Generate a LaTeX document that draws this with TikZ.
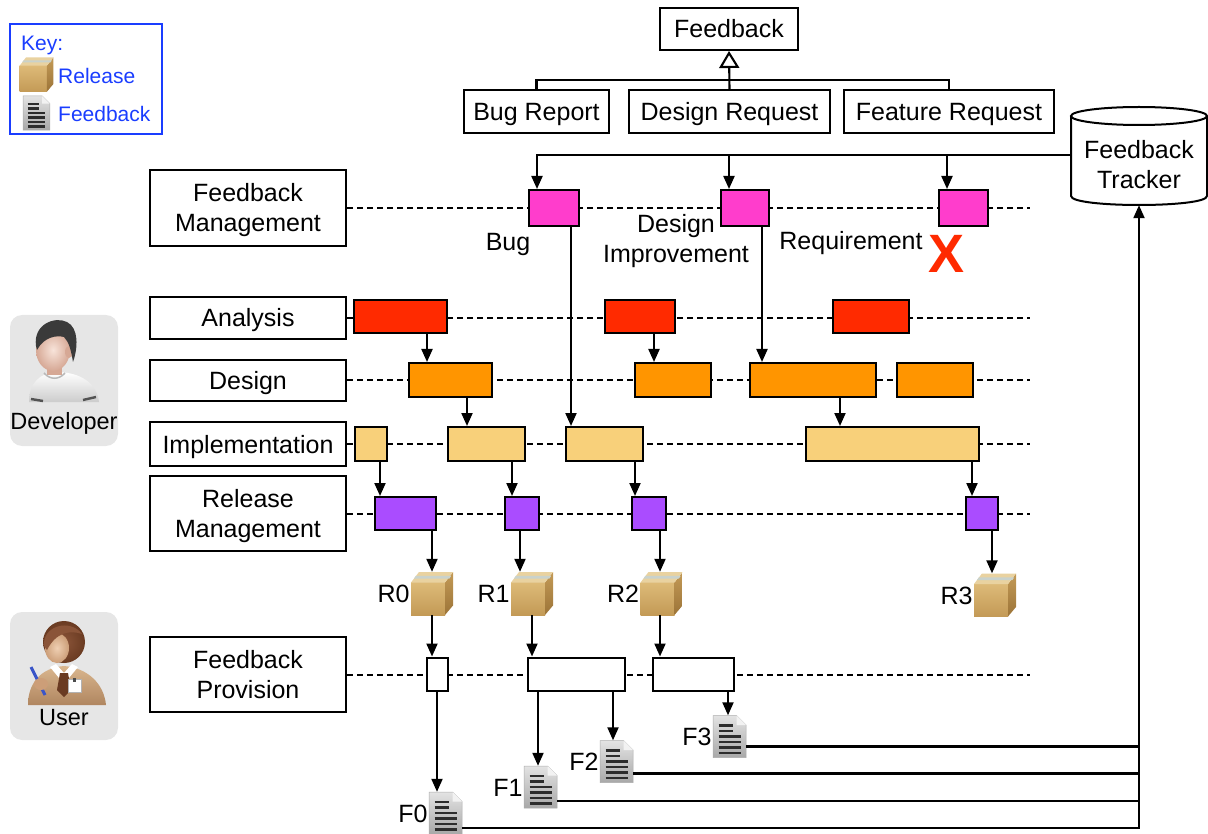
\documentclass[tikz,border=0pt]{standalone}
\usepackage{fontspec}
\setmainfont{Liberation Sans}
\usetikzlibrary{arrows.meta,calc}

\definecolor{fbpink}{HTML}{FF3DCC}
\definecolor{anred}{HTML}{FF2A00}
\definecolor{deorange}{HTML}{FF9500}
\definecolor{imtan}{HTML}{F8D07A}
\definecolor{rmpurple}{HTML}{AA4CFF}
\definecolor{keyblue}{HTML}{1A3DFF}
\definecolor{panelgrey}{HTML}{E6E6E6}
\definecolor{pkgtop}{HTML}{E9D2A0}
\definecolor{pkglight}{HTML}{DDBA78}
\definecolor{pkgmid}{HTML}{C39A56}
\definecolor{pkgdark}{HTML}{9C7438}
\definecolor{pkgtape}{HTML}{C9D2CC}
\definecolor{skinlight}{HTML}{F8E4DA}
\definecolor{skindark}{HTML}{D6A895}
\definecolor{devhair}{HTML}{3A3A3A}
\definecolor{userhair}{HTML}{8A5438}
\definecolor{userhairdark}{HTML}{6A3B22}
\definecolor{userskin}{HTML}{EFCFB2}
\definecolor{userskindark}{HTML}{CC9E78}
\definecolor{usercoat}{HTML}{D9B68E}
\definecolor{usercoatdark}{HTML}{B08660}
\definecolor{pen}{HTML}{3A55C8}

% release package icon: name, centre, scale
\newcommand{\pkgicon}[3]{%
  \node[minimum width=42*#3, minimum height=43*#3, inner sep=0pt] (#1) at (#2) {};
  \begin{scope}[shift={(#1.center)}, scale=#3]
    \shade[top color=pkglight, bottom color=pkgmid] (-21,-11) -- (13,-11) -- (13,21.5) -- (-21,21.5) -- cycle;
    \shade[top color=pkgmid, bottom color=pkgdark] (13,-11) -- (21,-21.5) -- (21,12) -- (13,21.5) -- cycle;
    \fill[pkgtop] (-21,-11) -- (-13,-21.5) -- (21,-21.5) -- (13,-11) -- cycle;
    \fill[pkgtape] (-18,-15) -- (-16.2,-17.6) -- (19.2,-17.6) -- (17.4,-15) -- cycle;
  \end{scope}}

% feedback document icon: name, centre, scale
\newcommand{\docicon}[3]{%
  \node[minimum width=33*#3, minimum height=42*#3, inner sep=0pt] (#1) at (#2) {};
  \begin{scope}[shift={(#1.center)}, scale=#3]
    \shade[top color=gray!22, bottom color=gray!68, draw=gray!65, line width=0.5pt]
      (-16.5,-21) -- (7,-21) -- (16.5,-11.5) -- (16.5,21) -- (-16.5,21) -- cycle;
    \fill[gray!10] (7,-21) -- (16.5,-11.5) -- (7,-11.5) -- cycle;
    \foreach \yy/\xe in {-11/3,-5.5/3,0/11,5.5/11,11/11,16.5/11}
      \draw[line width=2.6pt, gray!35!black] (-11,\yy) -- (\xe,\yy);
  \end{scope}}

% vertical connector at a given x between two nodes
\newcommand{\vlink}[3]{%
  \coordinate (vx) at (#3,0);
  \draw[arr] (#1.south -| vx) -- (#2.north -| vx);}

\begin{document}
\begin{tikzpicture}[x=1pt,y=-1pt,
  every node/.style={font=\fontsize{25}{30}\selectfont, text=black, text height=18pt, text depth=0pt},
  twoline/.style={align=center, text height=48pt, text depth=0pt},
  lanebox/.style={draw, line width=2pt, minimum width=196pt, align=center, inner sep=0pt},
  actbox/.style={draw, line width=2pt, inner sep=0pt},
  hier/.style={draw, line width=2pt, inner sep=0pt, minimum height=42pt},
  lanedash/.style={line width=2pt, dash pattern=on 6pt off 4pt},
  arr/.style={line width=2.1pt, -{Triangle[length=13pt,width=11pt]}},
  plain/.style={line width=2.1pt},
  tag/.style={anchor=east, inner sep=1pt},
  keytext/.style={anchor=west, inner sep=0pt, text=keyblue, text height=15pt, font=\fontsize{21}{24}\selectfont}
]
\useasboundingbox (0,0) rectangle (1208,834);

% ---------- key ----------
\draw[keyblue, line width=2pt] (10,24) rectangle (162,134);
\node[keytext] (keyt) at (21,43) {Key:};
\pkgicon{keypkg}{36.5,74.5}{0.8}
\node[keytext] (keyrel) at (58,76) {Release};
\docicon{keydoc}{36.5,113}{0.81}
\node[keytext] (keyfb) at (58,114) {Feedback};

% ---------- feedback taxonomy ----------
\node[hier, minimum width=138] (fbk) at (729,29) {Feedback};
\node[hier, minimum width=145, minimum height=43] (bugr) at (536.5,111.5) {Bug Report};
\node[hier, minimum width=201, minimum height=43] (desr) at (729.5,111.5) {Design Request};
\node[hier, minimum width=210, minimum height=43] (feat) at (949,111.5) {Feature Request};
\coordinate (bar) at (0,80);
\draw[plain] (bugr.north) -- (bugr.north |- bar) -- (feat.north |- bar) -- (feat.north);
\draw[plain, -{Triangle[open, length=17pt, width=20pt]}] (desr.north) -- (fbk.south);

% ---------- feedback tracker ----------
\draw[line width=2pt, fill=white] (1071,116) -- (1071,196)
  .. controls (1071,208) and (1207,208) .. (1207,196) -- (1207,116);
\draw[line width=2pt] (1139,116) ellipse [x radius=68, y radius=9];
\node[twoline, minimum width=136, minimum height=80, inner sep=0pt] (trk) at (1139,165) {Feedback\\Tracker};

% ---------- lanes ----------
\node[lanebox, twoline, minimum height=76] (lfm) at (248,208) {Feedback\\Management};
\node[lanebox, minimum height=42] (lan) at (248,318) {Analysis};
\node[lanebox, minimum height=41] (lde) at (248,380.5) {Design};
\node[lanebox, minimum height=44] (lim) at (248,444) {Implementation};
\node[lanebox, twoline, minimum height=75] (lrm) at (248,513.5) {Release\\Management};
\node[lanebox, twoline, minimum height=75] (lfp) at (248,674.5) {Feedback\\Provision};
\coordinate (laneend) at (1030,0);
\foreach \l in {lfm,lan,lde,lim,lrm,lfp}
  \draw[lanedash] (\l.east) -- (\l.east -| laneend);

% feedback management
\node[actbox, fill=fbpink, minimum width=50, minimum height=36] (p1) at (554,208) {};
\node[actbox, fill=fbpink, minimum width=48, minimum height=36] (p2) at (745,208) {};
\node[actbox, fill=fbpink, minimum width=49, minimum height=36] (p3) at (963.5,208) {};
% analysis
\node[actbox, fill=anred, minimum width=93, minimum height=33] (a1) at (400.5,317) {};
\node[actbox, fill=anred, minimum width=70, minimum height=33] (a2) at (640,317) {};
\node[actbox, fill=anred, minimum width=76, minimum height=33] (a3) at (871,317) {};
% design
\node[actbox, fill=deorange, minimum width=83, minimum height=34] (d1) at (450.5,380) {};
\node[actbox, fill=deorange, minimum width=76, minimum height=34] (d2) at (673,380) {};
\node[actbox, fill=deorange, minimum width=126, minimum height=34] (d3) at (813,380) {};
\node[actbox, fill=deorange, minimum width=76, minimum height=34] (d4) at (935,380) {};
% implementation
\node[actbox, fill=imtan, minimum width=32, minimum height=34] (i1) at (371,444) {};
\node[actbox, fill=imtan, minimum width=77, minimum height=34] (i2) at (486.5,444) {};
\node[actbox, fill=imtan, minimum width=77, minimum height=34] (i3) at (604.5,444) {};
\node[actbox, fill=imtan, minimum width=173, minimum height=34] (i4) at (892.5,444) {};
% release management
\node[actbox, fill=rmpurple, minimum width=61, minimum height=33] (r1) at (405.5,513.5) {};
\node[actbox, fill=rmpurple, minimum width=34, minimum height=33] (r2) at (522,513.5) {};
\node[actbox, fill=rmpurple, minimum width=34, minimum height=33] (r3) at (649,513.5) {};
\node[actbox, fill=rmpurple, minimum width=32, minimum height=33] (r4) at (982,513.5) {};
% feedback provision
\node[actbox, fill=white, minimum width=21, minimum height=33] (q1) at (437.5,674) {};
\node[actbox, fill=white, minimum width=97, minimum height=33] (q2) at (576.5,674) {};
\node[actbox, fill=white, minimum width=81, minimum height=33] (q3) at (693.5,674) {};

% labels of incoming feedback
\node (lbug) at (508,242) {Bug};
\node[twoline] (ldi) at (676,239) {Design\\Improvement};
\node (lreq) at (851,241) {Requirement};
\node[text=anred, text height=39pt, font=\fontsize{54}{54}\selectfont\bfseries] (xmark) at (946,253) {X};

% releases
\pkgicon{rel0}{432,593.5}{1}
\pkgicon{rel1}{532,593.5}{1}
\pkgicon{rel2}{661.5,593.5}{1}
\pkgicon{rel3}{995,595}{1}
\node[tag] (tr0) at (rel0.west) {R0};
\node[tag] (tr1) at (rel1.west) {R1};
\node[tag] (tr2) at (rel2.west) {R2};
\node[tag] (tr3) at (rel3.west) {R3};

% feedback documents
\docicon{doc0}{445.5,813}{1}
\docicon{doc1}{540.5,787}{1}
\docicon{doc2}{616.5,761.5}{1}
\docicon{doc3}{729.5,736.5}{1}
\node[tag] (tf0) at (doc0.west) {F0};
\node[tag] (tf1) at (doc1.west) {F1};
\node[tag] (tf2) at (doc2.west) {F2};
\node[tag] (tf3) at (doc3.west) {F3};

% ---------- connectors ----------
\coordinate (tin) at ([yshift=10pt]trk.west);
\coordinate (c1x) at (537,0);
\coordinate (c2x) at (729,0);
\coordinate (c3x) at (947,0);
\draw[arr] (tin) -| (p1.north -| c1x);
\draw[arr] (tin -| c2x) -- (p2.north -| c2x);
\draw[arr] (tin -| c3x) -- (p3.north -| c3x);

\vlink{a1}{d1}{427}
\vlink{a2}{d2}{654}
\vlink{p2}{d3}{762}
\vlink{p1}{i3}{571}
\vlink{d1}{i2}{467}
\vlink{d3}{i4}{840}
\vlink{i1}{r1}{380}
\vlink{i2}{r2}{512}
\vlink{i3}{r3}{635}
\vlink{i4}{r4}{972}
\vlink{r1}{rel0}{432}
\vlink{r2}{rel1}{520}
\vlink{r3}{rel2}{660}
\vlink{r4}{rel3}{992}
\vlink{rel0}{q1}{432}
\vlink{rel1}{q2}{532}
\vlink{rel2}{q3}{660}
\vlink{q1}{doc0}{437}
\vlink{q2}{doc1}{538}
\vlink{q2}{doc2}{613}
\vlink{q3}{doc3}{728}

% feedback flowing back into the tracker
\coordinate (o3) at ([yshift=-10pt]doc3.east);
\coordinate (o2) at ([yshift=-12pt]doc2.east);
\coordinate (o1) at ([yshift=-14pt]doc1.east);
\coordinate (o0) at ([yshift=-15pt]doc0.east);
\draw[plain] (o3) -- (o3 -| trk.south);
\draw[plain] (o2) -- (o2 -| trk.south);
\draw[plain] (o1) -- (o1 -| trk.south);
\draw[arr] (o0) -| (trk.south);

% ---------- developer ----------
\node[fill=panelgrey, rounded corners=12pt, minimum width=108, minimum height=131, inner sep=0pt] (devp) at (64,380.5) {};
\shade[top color=white, bottom color=gray!40] (29,402) .. controls (29,383) and (40,373) .. (56,372)
  .. controls (80,372) and (97,383) .. (99,402) -- cycle;
\fill[skindark] (47,362) rectangle (62,375);
\draw[gray!55, line width=1.5pt] (44,373) .. controls (50,380) and (59,380) .. (65,373);
\draw[gray!65!black, line width=2.4pt] (31,399) -- (43,401);
\draw[gray!65!black, line width=2.4pt] (83,400) -- (96,397);
\shade[inner color=skinlight, outer color=skindark] (53,350) ellipse [x radius=17, y radius=21];
\fill[skindark] (69,352) ellipse [x radius=4, y radius=6];
\fill[devhair] (36,346) .. controls (33,324) and (55,316) .. (67,322)
  .. controls (79,328) and (78,348) .. (73,362) .. controls (71,350) and (69,342) .. (64,337)
  .. controls (56,335) and (44,337) .. (37,350) -- cycle;
\node[text height=17pt, font=\fontsize{23.5}{28}\selectfont] (devt) at (64,421) {Developer};

% ---------- user ----------
\node[fill=panelgrey, rounded corners=12pt, minimum width=108, minimum height=128, inner sep=0pt] (usrp) at (64,676) {};
\shade[inner color=userhair, outer color=userhairdark] (64,642) ellipse [x radius=21, y radius=21];
\shade[top color=usercoat, bottom color=usercoatdark] (28,705) .. controls (28,684) and (40,668) .. (64,666)
  .. controls (88,668) and (104,684) .. (106,705) -- cycle;
\shade[inner color=userskin, outer color=userskindark] (57,648) ellipse [x radius=12, y radius=15];
\fill[userhair] (44,646) .. controls (42,626) and (70,618) .. (82,634)
  .. controls (70,630) and (56,632) .. (47,650) -- cycle;
\fill[white] (50,667) -- (64,684) -- (78,667) -- (72,664) -- (64,673) -- (56,664) -- cycle;
\fill[userhairdark] (60,673) -- (68,673) -- (71,690) -- (64,697) -- (57,690) -- cycle;
\fill[white, draw=gray!60] (68,679) rectangle (81,692);
\fill[black!70] (73,678) rectangle (76,682);
\draw[line width=3pt, pen] (31,667) -- (45,695);
\fill[userskindark] (41,684) ellipse [x radius=7, y radius=6];
\node[text height=17pt, font=\fontsize{23.5}{28}\selectfont] (usert) at (64,717) {User};
\end{tikzpicture}
\end{document}
